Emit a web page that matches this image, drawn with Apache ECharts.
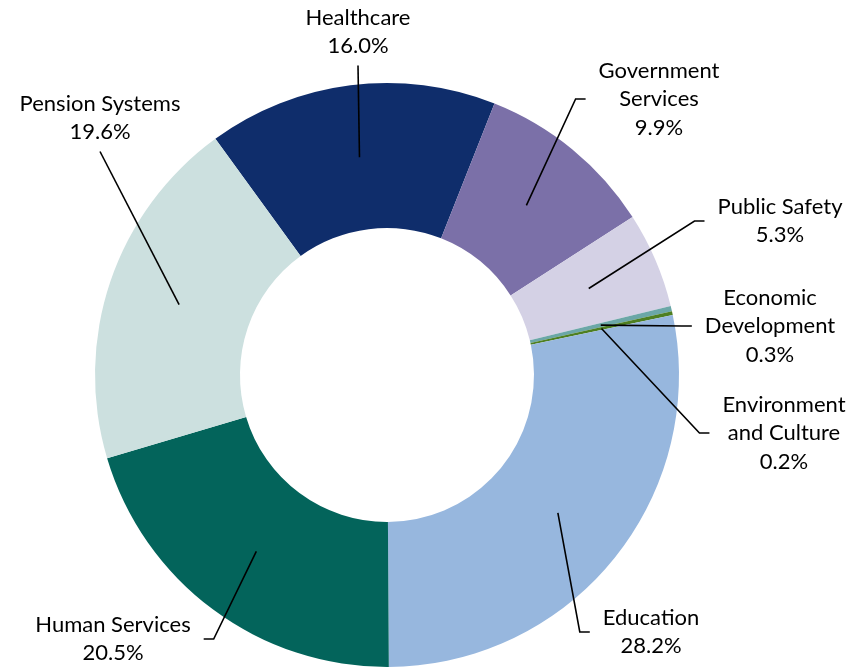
<!DOCTYPE html>
<html><head><meta charset="utf-8">
<script src="https://cdn.jsdelivr.net/npm/echarts@6/dist/echarts.min.js"></script>
<style>html,body{margin:0;padding:0;background:#fff}#c{width:856px;height:670px}</style>
</head><body><div id="c"></div>
<script>
// Data
const categories = ['Healthcare', 'Government\nServices', 'Public Safety', 'Economic\nDevelopment',
  'Environment\nand Culture', 'Education', 'Human Services', 'Pension Systems'];
const shares = [16.0, 9.9, 5.3, 0.3, 0.2, 28.2, 20.5, 19.6];

// Styles
const colors = ['#0F2D6B', '#7B70A8', '#D4D1E5', '#6BA7A7', '#4E7F21', '#97B7DE', '#03645B', '#CCE0DF'];

// Label placement (layout only)
const labelPlacement = [
  { x: 358, y: 32, side: 'bottom' },
  { x: 659, y: 99, side: 'left' },
  { x: 780, y: 221, side: 'left' },
  { x: 770, y: 326, side: 'left' },
  { x: 784, y: 433, side: 'left' },
  { x: 651, y: 632, side: 'left' },
  { x: 113, y: 639, side: 'right' },
  { x: 100, y: 118, side: 'bottom' }
];

const ringData = categories.map((c, i) => ({ name: c, value: shares[i], itemStyle: { color: colors[i] } }));
const labelData = categories.map((c, i) => ({ name: c, value: shares[i] }));

const chart = echarts.init(document.getElementById('c'), null, { renderer: 'canvas' });
const CENTER = [387, 375];
chart.setOption({
  animation: false,
  backgroundColor: '#fff',
  series: [
    {
      type: 'pie',
      silent: true,
      center: CENTER,
      radius: [147, 292],
      startAngle: 126,
      clockwise: true,
      avoidLabelOverlap: false,
      label: { show: false },
      labelLine: { show: false },
      itemStyle: { borderWidth: 0 },
      data: ringData
    },
    {
      type: 'pie',
      silent: true,
      center: CENTER,
      radius: [0, 219.5],
      startAngle: 126,
      clockwise: true,
      avoidLabelOverlap: false,
      z: 3,
      itemStyle: { color: 'rgba(0,0,0,0)', borderWidth: 0 },
      label: {
        show: true,
        position: 'outside',
        color: '#000',
        fontFamily: 'Lato',
        fontSize: 22,
        lineHeight: 28.5,
        align: 'center',
        formatter: p => p.name + '\n' + p.value.toFixed(1) + '%'
      },
      labelLine: { show: true, length: 10, length2: 10, lineStyle: { color: '#000', width: 1.6 } },
      labelLayout: function (p) {
        const s = labelPlacement[p.dataIndex];
        const w = p.labelRect.width, h = p.labelRect.height;
        const a = p.labelLinePoints[0];
        let pts;
        if (s.side === 'bottom') {
          const e = [s.x, s.y + h / 2 + 5];
          pts = [[a[0], a[1]], e, e.slice()];
        } else if (s.side === 'left') {
          const e = [s.x - w / 2 - 13, s.y];
          pts = [[a[0], a[1]], [e[0] - 10, e[1]], e];
        } else {
          const e = [s.x + w / 2 + 13, s.y];
          pts = [[a[0], a[1]], [e[0] + 10, e[1]], e];
        }
        return { x: s.x, y: s.y, align: 'center', verticalAlign: 'middle', labelLinePoints: pts };
      },
      data: labelData
    }
  ]
});
</script>
</body></html>
